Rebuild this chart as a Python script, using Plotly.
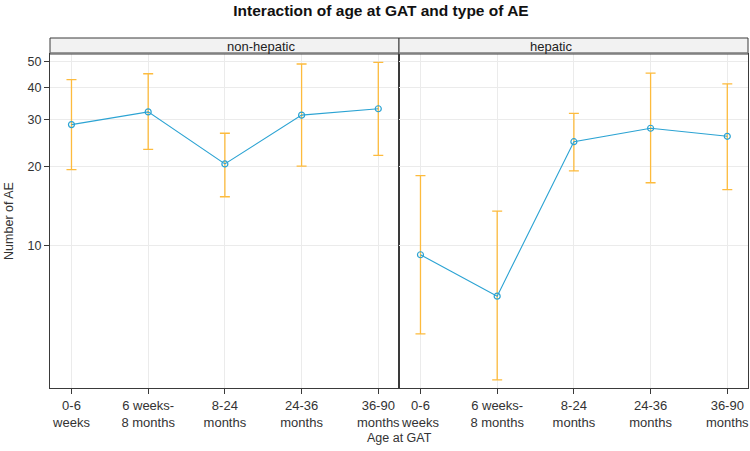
import plotly.graph_objects as go
from plotly.subplots import make_subplots
import math

categories = ["0-6<br>weeks", "6 weeks-<br>8 months", "8-24<br>months", "24-36<br>months", "36-90<br>months"]
panels = ["non-hepatic", "hepatic"]

nonhep_est = [28.8, 32.2, 20.4, 31.3, 33.1]
nonhep_low = [19.4, 23.2, 15.3, 20.0, 22.0]
nonhep_up = [42.7, 45.0, 26.7, 49.0, 49.7]

hep_est = [9.2, 6.4, 24.8, 27.9, 26.0]
hep_low = [4.6, 3.07, 19.2, 17.3, 16.3]
hep_up = [18.4, 13.5, 31.8, 45.2, 41.2]

y_ticks = [10, 20, 30, 40, 50]

LINE = "#2ba3d3"
ERR = "#fdbb3d"
FRAME = "#3a3a3a"
GRID = "#ebebeb"
FONT = "Liberation Sans, Arial, sans-serif"

fig = make_subplots(rows=1, cols=2, horizontal_spacing=0, shared_yaxes=True)

data = [(nonhep_est, nonhep_low, nonhep_up), (hep_est, hep_low, hep_up)]
xs = list(range(len(categories)))
for i, (est, low, up) in enumerate(data):
    fig.add_trace(go.Scatter(
        x=xs, y=est, mode="lines+markers",
        line=dict(color=LINE, width=1.1),
        marker=dict(symbol="circle-open", size=6, color=LINE, line=dict(width=1.2)),
        error_y=dict(type="data", symmetric=False,
                     array=[u - e for u, e in zip(up, est)],
                     arrayminus=[e - l for e, l in zip(est, low)],
                     color=ERR, thickness=1.3, width=5),
        showlegend=False,
    ), row=1, col=i + 1)

ax_common = dict(tickvals=xs, ticktext=categories, range=[-0.28, 4.27],
                 showline=True, mirror=True, linecolor=FRAME, linewidth=1,
                 ticks="outside", ticklen=5, tickcolor=FRAME,
                 showgrid=True, gridcolor=GRID, zeroline=False,
                 tickfont=dict(family=FONT, size=13, color="#333333"))
fig.update_xaxes(**ax_common)

yr = [math.log10(2.86), math.log10(53.5)]
fig.update_yaxes(type="log", range=yr, tickvals=y_ticks, ticktext=[str(t) for t in y_ticks],
                 showline=True, mirror=True, linecolor=FRAME, linewidth=1,
                 showgrid=True, gridcolor=GRID, zeroline=False,
                 tickfont=dict(family=FONT, size=12.5, color="#333333"))
fig.update_yaxes(ticks="outside", ticklen=5, tickcolor=FRAME,
                 title=dict(text="Number of AE", font=dict(family=FONT, size=12.5, color="#333333"), standoff=11),
                 row=1, col=1)
fig.update_yaxes(ticks="", showticklabels=False, row=1, col=2)

plot_h = 451 - 54 - 63
strip_h = 16 / plot_h
doms = [fig.layout.xaxis.domain, fig.layout.xaxis2.domain]
for name, d in zip(panels, doms):
    fig.add_shape(type="rect", xref="paper", yref="paper", x0=d[0], x1=d[1], y0=1, y1=1 + strip_h,
                  fillcolor="#f2f2f2", line=dict(color=FRAME, width=1), layer="above")
    fig.add_shape(type="line", xref="paper", yref="paper", x0=d[0], x1=d[1], y0=1 + 1 / plot_h, y1=1 + 1 / plot_h,
                  line=dict(color="#7a7a7a", width=1.5), layer="above")
    fig.add_annotation(xref="paper", yref="paper", x=(d[0] + d[1]) / 2, y=1 + strip_h / 2,
                       text=name, showarrow=False, yanchor="middle",
                       font=dict(family=FONT, size=13, color="#222222"))

fig.update_layout(
    width=750, height=451,
    margin=dict(l=50, r=2, t=54, b=63),
    paper_bgcolor="white", plot_bgcolor="white",
    title=dict(text="<b>Interaction of age at GAT and type of AE</b>", x=381 / 750, xanchor="center",
               y=1 - 11 / 451, yanchor="middle", font=dict(family=FONT, size=15.5, color="#111111")),
)
fig.add_annotation(xref="paper", yref="paper", x=0.5, y=0, yshift=-50, text="Age at GAT",
                   showarrow=False, yanchor="middle", font=dict(family=FONT, size=12.5, color="#333333"))

fig.write_html("out.html", config={"displayModeBar": False},
               post_script="document.body.style.margin='0';")
